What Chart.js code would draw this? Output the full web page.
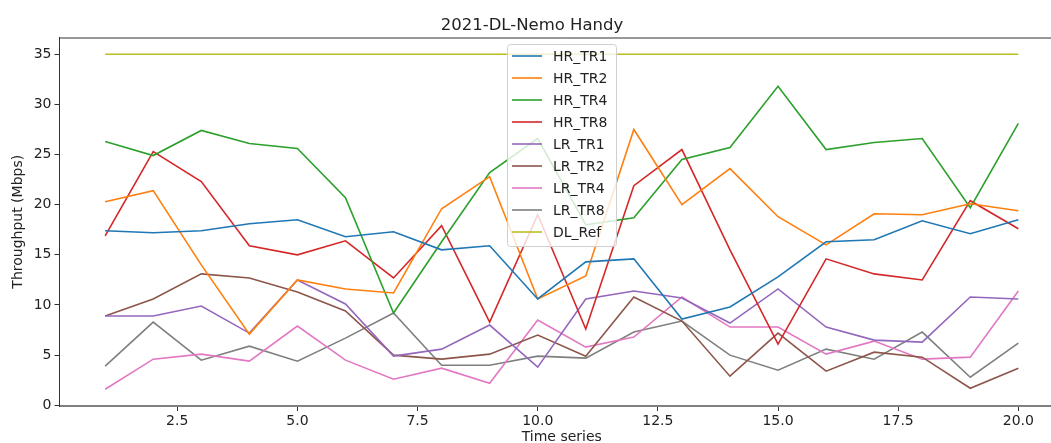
<!DOCTYPE html>
<html>
<head>
<meta charset="utf-8">
<script src="https://cdn.jsdelivr.net/npm/chart.js@4.4.1/dist/chart.umd.min.js"></script>
<style>
  html, body { margin: 0; padding: 0; background: #fff; overflow: hidden; }
  #wrap { width: 1080px; height: 443px; }
</style>
</head>
<body>
<div id="wrap"><canvas id="chart" width="1080" height="443"></canvas></div>
<script>
// time steps on the x axis
const timeSeries = [1, 2, 3, 4, 5, 6, 7, 8, 9, 10, 11, 12, 13, 14, 15, 16, 17, 18, 19, 20];

// throughput per series (Mbps)
const hrTr1 = [17.4, 17.2, 17.4, 18.1, 18.5, 16.8, 17.3, 15.5, 15.9, 10.6, 14.3, 14.6, 8.6, 9.8, 12.8, 16.3, 16.5, 18.4, 17.1, 18.5];
const hrTr2 = [20.3, 21.4, 14.0, 7.1, 12.5, 11.6, 11.2, 19.6, 22.8, 10.6, 12.9, 27.5, 20.0, 23.6, 18.8, 16.0, 19.1, 19.0, 20.1, 19.4];
const hrTr4 = [26.3, 24.9, 27.4, 26.1, 25.6, 20.7, 9.2, 16.3, 23.2, 26.6, 18.0, 18.7, 24.5, 25.7, 31.8, 25.5, 26.2, 26.6, 19.7, 28.1];
const hrTr8 = [16.9, 25.3, 22.3, 15.9, 15.0, 16.4, 12.7, 17.9, 8.3, 19.0, 7.6, 21.9, 25.5, 15.5, 6.1, 14.6, 13.1, 12.5, 20.4, 17.6];
const lrTr1 = [8.9, 8.9, 9.9, 7.2, 12.5, 10.1, 4.9, 5.6, 8.0, 3.8, 10.6, 11.4, 10.7, 8.2, 11.6, 7.8, 6.5, 6.3, 10.8, 10.6];
const lrTr2 = [8.9, 10.6, 13.1, 12.7, 11.3, 9.4, 5.0, 4.6, 5.1, 7.0, 4.9, 10.8, 8.4, 2.9, 7.2, 3.4, 5.3, 4.8, 1.7, 3.7];
const lrTr4 = [1.6, 4.6, 5.1, 4.4, 7.9, 4.5, 2.6, 3.7, 2.2, 8.5, 5.8, 6.8, 10.8, 7.8, 7.8, 5.1, 6.4, 4.6, 4.8, 11.4];
const lrTr8 = [3.9, 8.3, 4.5, 5.9, 4.4, 6.7, 9.2, 4.0, 4.0, 4.9, 4.7, 7.3, 8.4, 5.0, 3.5, 5.6, 4.6, 7.3, 2.8, 6.2];
const dlRef = [35, 35, 35, 35, 35, 35, 35, 35, 35, 35, 35, 35, 35, 35, 35, 35, 35, 35, 35, 35];

const seriesNames = ["HR_TR1", "HR_TR2", "HR_TR4", "HR_TR8", "LR_TR1", "LR_TR2", "LR_TR4", "LR_TR8", "DL_Ref"];
const seriesValues = [hrTr1, hrTr2, hrTr4, hrTr8, lrTr1, lrTr2, lrTr4, lrTr8, dlRef];
const seriesColours = ["#1f77b4", "#ff7f0e", "#2ca02c", "#d62728", "#9467bd", "#8c564b", "#e377c2", "#7f7f7f", "#bcbd22"];

const xTicks = [2.5, 5.0, 7.5, 10.0, 12.5, 15.0, 17.5, 20.0];
const yTicks = [0, 5, 10, 15, 20, 25, 30, 35];

const FONT = "'DejaVu Sans', sans-serif";

const datasets = seriesNames.map((name, i) => ({
  label: name,
  data: timeSeries.map((t, j) => ({ x: t, y: seriesValues[i][j] })),
  borderColor: seriesColours[i],
  backgroundColor: seriesColours[i],
  borderWidth: 1.6,
  pointRadius: 0,
  tension: 0,
  fill: false
}));

// matplotlib style legend inside the plot, plus the top/right frame
const boxLegend = {
  id: "boxLegend",
  afterDatasetsDraw(chart) {
    const ctx = chart.ctx;
    const area = chart.chartArea;
    ctx.save();
    ctx.strokeStyle = "#333";
    ctx.lineWidth = 1;
    ctx.beginPath();
    ctx.moveTo(area.left, area.top + 0.5);
    ctx.lineTo(area.right, area.top + 0.5);
    ctx.lineTo(area.right, area.bottom);
    ctx.stroke();

    const x0 = 507.5, y0 = 44.5, w = 109, h = 202, r = 3;
    ctx.beginPath();
    ctx.roundRect(x0, y0, w, h, r);
    ctx.fillStyle = "rgba(255,255,255,0.8)";
    ctx.fill();
    ctx.strokeStyle = "#d0d0d0";
    ctx.stroke();

    ctx.font = "14px " + FONT;
    ctx.textBaseline = "middle";
    ctx.textAlign = "left";
    chart.data.datasets.forEach((ds, i) => {
      const y = 56 + i * 22;
      ctx.strokeStyle = ds.borderColor;
      ctx.lineWidth = 1.6;
      ctx.beginPath();
      ctx.moveTo(512, y);
      ctx.lineTo(542, y);
      ctx.stroke();
      ctx.fillStyle = "#222";
      ctx.fillText(ds.label, 553, y + 1);
    });
    ctx.restore();
  }
};

new Chart(document.querySelector("#chart"), {
  type: "line",
  data: { datasets },
  options: {
    responsive: false,
    animation: false,
    layout: { padding: { left: 0, right: 16, top: 0, bottom: 0 } },
    plugins: {
      legend: { display: false },
      tooltip: { enabled: false },
      title: {
        display: true,
        text: "2021-DL-Nemo Handy",
        color: "#222",
        font: { family: FONT, size: 16.5, weight: "normal", lineHeight: 1.2 },
        padding: { top: 16, bottom: 1.7 }
      }
    },
    scales: {
      x: {
        type: "linear",
        min: 0.05,
        max: 20.95,
        afterBuildTicks: axis => { axis.ticks = xTicks.map(v => ({ value: v })); },
        afterFit: axis => { axis.height = 37; },
        ticks: {
          color: "#222",
          font: { family: FONT, size: 14 },
          padding: 2,
          maxRotation: 0,
          callback: v => v.toFixed(1)
        },
        grid: { drawOnChartArea: false, drawTicks: true, tickLength: 5, color: "#333" },
        border: { display: true, color: "#808080", width: 2 },
        title: {
          display: true,
          text: "Time series",
          color: "#222",
          font: { family: FONT, size: 14 },
          padding: { top: 0, bottom: -3 }
        }
      },
      y: {
        type: "linear",
        min: -0.07,
        max: 36.67,
        afterBuildTicks: axis => { axis.ticks = yTicks.map(v => ({ value: v })); },
        afterFit: axis => { axis.width = 59.5; },
        ticks: {
          color: "#222",
          font: { family: FONT, size: 14 },
          padding: 3,
          callback: v => String(v)
        },
        grid: { drawOnChartArea: false, drawTicks: true, tickLength: 5, color: "#333" },
        border: { display: true, color: "#333", width: 1 },
        title: {
          display: true,
          text: "Throughput (Mbps)",
          color: "#222",
          font: { family: FONT, size: 14 },
          padding: { top: 10, bottom: 0 }
        }
      }
    }
  },
  plugins: [boxLegend]
});
</script>
</body>
</html>
